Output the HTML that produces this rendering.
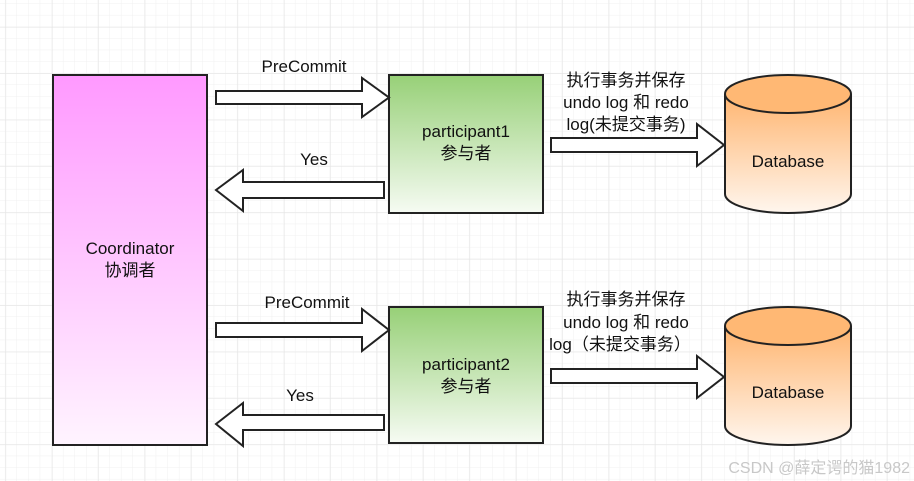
<!DOCTYPE html>
<html><head><meta charset="utf-8"><style>
html,body{margin:0;padding:0;background:#fff;}
svg{display:block;}
text{font-family:"Liberation Sans","Noto Sans CJK SC",sans-serif;font-size:17px;fill:#111;}
</style></head><body>
<svg width="914" height="481" viewBox="0 0 914 481" xmlns="http://www.w3.org/2000/svg">
<defs>
<pattern id="minor" x="5.4" y="3.8" width="11.6" height="11.6" patternUnits="userSpaceOnUse">
<path d="M11.6 0V11.6M0 11.6H11.6" fill="none" stroke="#f0f0f0" stroke-width="1"/>
</pattern>
<pattern id="major" x="5.6" y="27" width="46.4" height="46.4" patternUnits="userSpaceOnUse">
<path d="M0 0V46.4M0 0H46.4" fill="none" stroke="#e4e4e4" stroke-width="1"/>
</pattern>
<linearGradient id="pink" x1="0" y1="0" x2="0" y2="1"><stop offset="0" stop-color="#ff99ff"/><stop offset="1" stop-color="#fff4ff"/></linearGradient>
<linearGradient id="green" x1="0" y1="0" x2="0" y2="1"><stop offset="0" stop-color="#97d077"/><stop offset="1" stop-color="#f6fbf3"/></linearGradient>
<linearGradient id="orange" x1="0" y1="0" x2="0" y2="1"><stop offset="0" stop-color="#ffb570"/><stop offset="1" stop-color="#fff6ee"/></linearGradient>
</defs>
<rect width="914" height="481" fill="url(#minor)"/>
<rect width="914" height="481" fill="url(#major)"/>

<rect x="53" y="75" width="154" height="370" fill="url(#pink)" stroke="#222" stroke-width="2"/>
<text x="130" y="254" text-anchor="middle">Coordinator</text>
<text x="130" y="276" text-anchor="middle">协调者</text>

<rect x="389" y="75" width="154" height="138" fill="url(#green)" stroke="#222" stroke-width="2"/>
<text x="466" y="137" text-anchor="middle">participant1</text>
<text x="466" y="159" text-anchor="middle">参与者</text>

<rect x="389" y="307" width="154" height="136" fill="url(#green)" stroke="#222" stroke-width="2"/>
<text x="466" y="370" text-anchor="middle">participant2</text>
<text x="466" y="392" text-anchor="middle">参与者</text>

<g fill="#fff" stroke="#222" stroke-width="2" stroke-linejoin="miter">
<path d="M216 91H362V78L389 97.5L362 117V104H216Z"/>
<path d="M384 182H243V170L216 190L243 211V198H384Z"/>
<path d="M551 138H697V124L724 145L697 166V152H551Z"/>
<path d="M216 323H362V309L389 330L362 351V337H216Z"/>
<path d="M384 415H243V403L216 424L243 446V430H384Z"/>
<path d="M551 369H697V356L724 377L697 398V383H551Z"/>
</g>

<g stroke="#222" stroke-width="2">
<path d="M725 94V194A63 19 0 0 0 851 194V94" fill="url(#orange)"/>
<ellipse cx="788" cy="94" rx="63" ry="19" fill="#ffb874"/>
<path d="M725 326V426A63 19 0 0 0 851 426V326" fill="url(#orange)"/>
<ellipse cx="788" cy="326" rx="63" ry="19" fill="#ffb874"/>
</g>
<text x="788" y="167" text-anchor="middle">Database</text>
<text x="788" y="398" text-anchor="middle">Database</text>

<text x="304" y="72" text-anchor="middle">PreCommit</text>
<text x="314" y="165" text-anchor="middle">Yes</text>
<text x="307" y="308" text-anchor="middle">PreCommit</text>
<text x="300" y="401" text-anchor="middle">Yes</text>

<text x="626" y="86" text-anchor="middle">执行事务并保存</text>
<text x="626" y="108" text-anchor="middle">undo log 和 redo</text>
<text x="626" y="130" text-anchor="middle">log(未提交事务)</text>
<text x="626" y="305" text-anchor="middle">执行事务并保存</text>
<text x="626" y="328" text-anchor="middle">undo log 和 redo</text>
<text x="620" y="350" text-anchor="middle">log（未提交事务）</text>

<text x="910" y="473" text-anchor="end" style="font-size:16px;fill:#c8c8c8;">CSDN @薛定谔的猫1982</text>
</svg>
</body></html>
